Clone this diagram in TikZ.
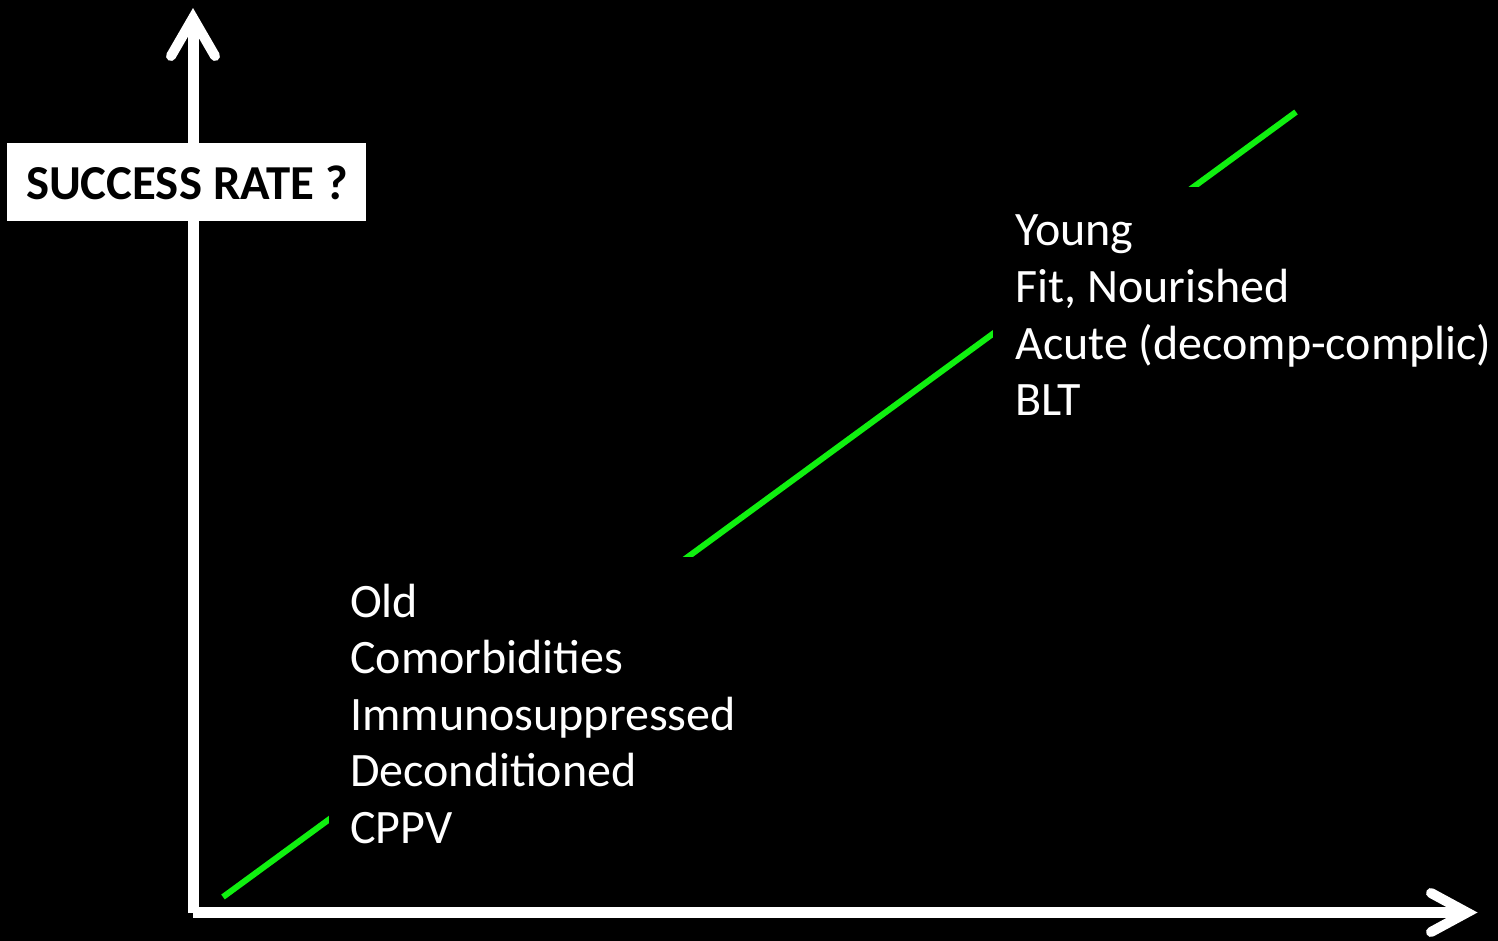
\documentclass[tikz,border=0pt]{standalone}
\usepackage{fontspec}
\setmainfont{Carlito}
\begin{document}
\begin{tikzpicture}[x=1pt,y=-1pt,
  axis/.style={draw=white,line width=11pt,line cap=butt},
  head/.style={draw=white,line width=10pt,line cap=round,line join=miter},
  trend/.style={draw=trendgreen,line width=6pt},
  cover/.style={fill=black,inner sep=0pt,anchor=north west},
  lbl/.style={text=white,inner sep=0pt,anchor=base west,font=\fontsize{48}{56}\selectfont},
  ttlbox/.style={fill=white,inner sep=0pt,minimum width=359pt,minimum height=78pt,anchor=north west},
  ttl/.style={text=black,inner sep=0pt,anchor=base,font=\fontsize{48.8}{58}\selectfont\bfseries}]
\definecolor{trendgreen}{RGB}{16,240,16}
\fill[black] (0,0) rectangle (1498,941);
\useasboundingbox (0,0) rectangle (1498,941);
% axes
\coordinate (o) at (193,912.5);
\coordinate (ytip) at (193,18);
\coordinate (xtip) at (1467,912.5);
\coordinate (yl) at (171,56);
\coordinate (yr) at (215,56);
\coordinate (xu) at (1431,893);
\coordinate (xd) at (1431,932);
\draw[axis] (193,913) -- (ytip);
\draw[axis] (o) -- (xtip);
\draw[head] (yl) -- (ytip) -- (yr);
\draw[head] (xu) -- (xtip) -- (xd);
% trend line
\coordinate (g0) at (223,897);
\coordinate (g1) at (1296,112);
\draw[trend] (g0) -- (g1);
% covers
\node[cover,minimum width=420pt,minimum height=300pt] (c1) at (329,557) {};
\node[cover,minimum width=505pt,minimum height=260pt] (c2) at (993,187) {};
% lower labels
\node[lbl] (l1) at (350,617) {Old};
\node[lbl] (l2) at (350,673) {Comorbidities};
\node[lbl] (l3) at (350,730) {Immunosuppressed};
\node[lbl] (l4) at (350,786) {Deconditioned};
\node[lbl] (l5) at (350,843) {CPPV};
% upper labels
\node[lbl] (u1) at (1015,246) {Young};
\node[lbl] (u2) at (1015,302) {Fit, Nourished};
\node[lbl] (u3) at (1015,359) {Acute (decomp-complic)};
\node[lbl] (u4) at (1015,415) {BLT};
% title box
\node[ttlbox] (tb) at (7,143) {};
\node[ttl] (t) at (187,200) {SUCCESS RATE ?};
\end{tikzpicture}
\end{document}
